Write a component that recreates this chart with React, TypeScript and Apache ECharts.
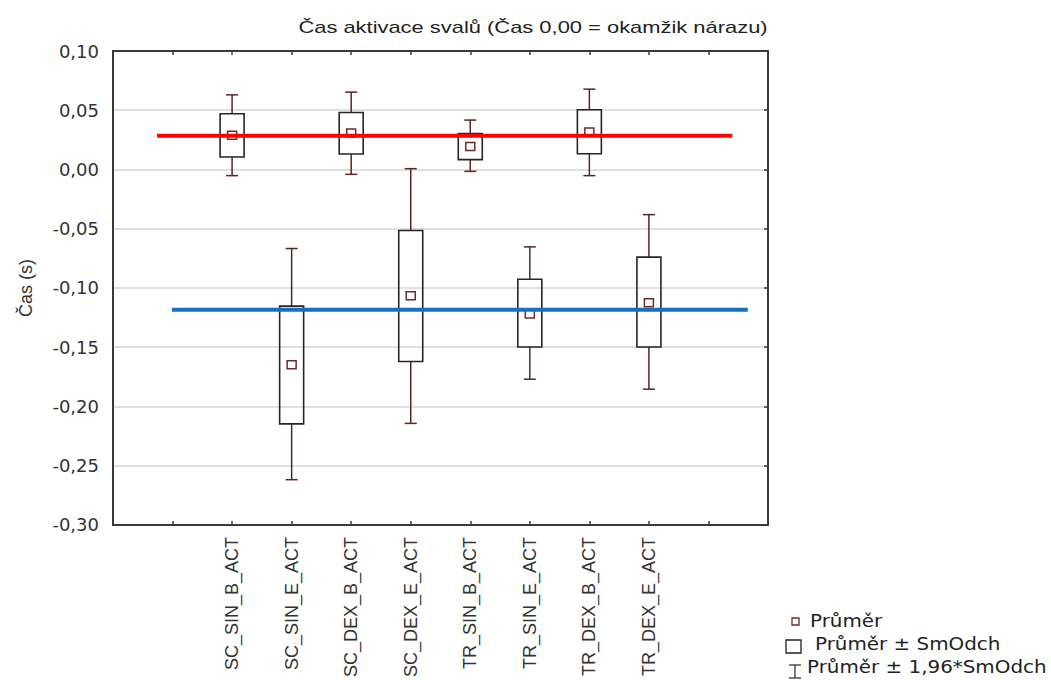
import React, { useEffect, useRef } from "react";
import * as echarts from "echarts";

// ---- data ----
const categories = [
  "SC_SIN_B_ACT",
  "SC_SIN_E_ACT",
  "SC_DEX_B_ACT",
  "SC_DEX_E_ACT",
  "TR_SIN_B_ACT",
  "TR_SIN_E_ACT",
  "TR_DEX_B_ACT",
  "TR_DEX_E_ACT",
];
// position of each category on the x scale (ticks 1..10, boxes on 2..9)
const categoryPos = [2, 3, 4, 5, 6, 7, 8, 9];
const means = [0.0285, -0.1652, 0.0304, -0.1069, 0.0189, -0.1223, 0.0312, -0.1128];
const sdLow = [0.0105, -0.2147, 0.0131, -0.1621, 0.0083, -0.1498, 0.0133, -0.1498];
const sdHigh = [0.047, -0.1153, 0.0481, -0.0515, 0.0304, -0.0926, 0.0504, -0.074];
const ciLow = [-0.0052, -0.2618, -0.0041, -0.2143, -0.0016, -0.177, -0.0052, -0.1854];
const ciHigh = [0.063, -0.0667, 0.0653, 0.0007, 0.0417, -0.0653, 0.0678, -0.0381];

const redLineY = 0.0285;
const redLineX = [0.74, 10.4];
const blueLineY = -0.1183;
const blueLineX = [0.99, 10.66];

const yTicksMin = -0.3;
const yTicksMax = 0.1;
const yTickStep = 0.05;

const titleText = "Čas aktivace svalů (Čas 0,00 = okamžik nárazu)";
const yName = "Čas (s)";
const legendLabels = ["Průměr", "Průměr ± SmOdch", "Průměr ± 1,96*SmOdch"];

const FRAME = "#3a3a3a";
const WHISKER = "#5a2424";
const MEANC = "#6e2a2a";

export default function App() {
  const ref = useRef<HTMLDivElement>(null);

  useEffect(() => {
    if (!ref.current) return;
    const chart = echarts.init(ref.current, null, { renderer: "svg" });

    const boxData = categories.map((_, i) => [
      categoryPos[i],
      means[i],
      sdLow[i],
      sdHigh[i],
      ciLow[i],
      ciHigh[i],
    ]);

    const fmtY = (v: number) =>
      Math.abs(v) < 1e-9 ? "0,00" : v.toFixed(2).replace(".", ",");

    const option: any = {
      animation: false,
      backgroundColor: "#ffffff",
      grid: { left: 113, top: 51, right: 283, bottom: 154, containLabel: false },
      xAxis: [
        {
          type: "value",
          position: "bottom",
          min: 0,
          max: 11,
          interval: 1,
          axisLine: { show: true, onZero: false, lineStyle: { color: FRAME, width: 2 } },
          axisTick: { show: true, inside: true, length: 4, lineStyle: { color: FRAME, width: 1.5 } },
          axisLabel: {
            rotate: 90,
            margin: 12,
            fontSize: 18,
            fontFamily: "Liberation Sans, Arial, sans-serif",
            color: "#333333",
            formatter: (v: number) => {
              const idx = categoryPos.indexOf(Math.round(v));
              return idx >= 0 ? categories[idx] : "";
            },
          },
          splitLine: { show: false },
        },
        {
          type: "value",
          position: "top",
          min: 0,
          max: 11,
          interval: 1,
          axisLine: { show: true, onZero: false, lineStyle: { color: FRAME, width: 2 } },
          axisTick: { show: true, inside: true, length: 4, lineStyle: { color: FRAME, width: 1.5 } },
          axisLabel: { show: false },
          splitLine: { show: false },
        },
      ],
      yAxis: [
        {
          type: "value",
          position: "left",
          min: yTicksMin,
          max: yTicksMax,
          interval: yTickStep,
          name: yName,
          nameLocation: "middle",
          nameRotate: 90,
          nameGap: 78,
          nameTextStyle: {
            fontSize: 18,
            fontFamily: "Liberation Sans, Arial, sans-serif",
            color: "#333333",
          },
          axisLine: { show: true, onZero: false, lineStyle: { color: FRAME, width: 2 } },
          axisTick: { show: false },
          axisLabel: {
            margin: 14,
            fontSize: 18,
            fontFamily: "DejaVu Sans, sans-serif",
            color: "#333333",
            formatter: fmtY,
          },
          splitLine: { show: true, lineStyle: { color: "#d6d6d6", width: 1.5 } },
        },
        {
          type: "value",
          position: "right",
          min: yTicksMin,
          max: yTicksMax,
          interval: yTickStep,
          axisLine: { show: true, onZero: false, lineStyle: { color: FRAME, width: 2 } },
          axisTick: { show: true, inside: true, length: 4, lineStyle: { color: FRAME, width: 1.5 } },
          axisLabel: { show: false },
          splitLine: { show: false },
        },
      ],
      series: [
        {
          type: "custom",
          xAxisIndex: 0,
          yAxisIndex: 0,
          data: boxData,
          z: 3,
          renderItem: (params: any, api: any) => {
            const x = api.value(0);
            const m = api.value(1);
            const sl = api.value(2);
            const sh = api.value(3);
            const cl = api.value(4);
            const ch = api.value(5);
            const px = api.coord([x, m])[0];
            const y = (v: number) => api.coord([x, v])[1];
            const bw = 24;
            const cw = 12;
            const ms = 9;
            return {
              type: "group",
              children: [
                {
                  type: "line",
                  shape: { x1: px, y1: y(ch), x2: px, y2: y(sh) },
                  style: { stroke: WHISKER, lineWidth: 1.5 },
                },
                {
                  type: "line",
                  shape: { x1: px, y1: y(sl), x2: px, y2: y(cl) },
                  style: { stroke: WHISKER, lineWidth: 1.5 },
                },
                {
                  type: "line",
                  shape: { x1: px - cw / 2, y1: y(ch), x2: px + cw / 2, y2: y(ch) },
                  style: { stroke: WHISKER, lineWidth: 1.5 },
                },
                {
                  type: "line",
                  shape: { x1: px - cw / 2, y1: y(cl), x2: px + cw / 2, y2: y(cl) },
                  style: { stroke: WHISKER, lineWidth: 1.5 },
                },
                {
                  type: "rect",
                  shape: { x: px - bw / 2, y: y(sh), width: bw, height: y(sl) - y(sh) },
                  style: { stroke: "#262626", lineWidth: 1.6, fill: "none" },
                },
                {
                  type: "rect",
                  shape: { x: px - ms / 2, y: y(m) - ms / 2, width: ms, height: ms - 1 },
                  style: { stroke: MEANC, lineWidth: 1.5, fill: "#ffffff" },
                },
              ],
            };
          },
        },
        {
          type: "line",
          xAxisIndex: 0,
          yAxisIndex: 0,
          data: [
            [redLineX[0], redLineY],
            [redLineX[1], redLineY],
          ],
          symbol: "none",
          z: 5,
          lineStyle: { color: "#ff0000", width: 4 },
        },
        {
          type: "line",
          xAxisIndex: 0,
          yAxisIndex: 0,
          data: [
            [blueLineX[0], blueLineY],
            [blueLineX[1], blueLineY],
          ],
          symbol: "none",
          z: 5,
          lineStyle: { color: "#1570c2", width: 4 },
        },
      ],
      graphic: [
        {
          type: "text",
          x: 533,
          y: 28,
          scaleX: 1.37,
          style: {
            text: titleText,
            fontSize: 16,
            fontFamily: "Liberation Sans, Arial, sans-serif",
            fill: "#222222",
            align: "center",
            verticalAlign: "middle",
          },
        },
        // legend
        {
          type: "rect",
          shape: { x: 792, y: 618, width: 7, height: 7 },
          style: { stroke: MEANC, lineWidth: 1.3, fill: "#ffffff" },
        },
        {
          type: "text",
          x: 810,
          y: 621,
          scaleX: 1.17,
          style: {
            text: legendLabels[0],
            fontSize: 17,
            fontFamily: "DejaVu Sans, sans-serif",
            fill: "#222222",
            verticalAlign: "middle",
          },
        },
        {
          type: "rect",
          shape: { x: 786, y: 640, width: 15, height: 13 },
          style: { stroke: "#222222", lineWidth: 1.3, fill: "#ffffff" },
        },
        {
          type: "text",
          x: 815,
          y: 644,
          scaleX: 1.17,
          style: {
            text: legendLabels[1],
            fontSize: 17,
            fontFamily: "DejaVu Sans, sans-serif",
            fill: "#222222",
            verticalAlign: "middle",
          },
        },
        {
          type: "line",
          shape: { x1: 795, y1: 665, x2: 795, y2: 678 },
          style: { stroke: "#333333", lineWidth: 1.3 },
        },
        {
          type: "line",
          shape: { x1: 789, y1: 665, x2: 801, y2: 665 },
          style: { stroke: "#333333", lineWidth: 1.3 },
        },
        {
          type: "line",
          shape: { x1: 789, y1: 678, x2: 801, y2: 678 },
          style: { stroke: "#333333", lineWidth: 1.3 },
        },
        {
          type: "text",
          x: 807,
          y: 667,
          scaleX: 1.17,
          style: {
            text: legendLabels[2],
            fontSize: 17,
            fontFamily: "DejaVu Sans, sans-serif",
            fill: "#222222",
            verticalAlign: "middle",
          },
        },
      ],
    };

    chart.setOption(option);
    return () => chart.dispose();
  }, []);

  return (
    <div
      ref={ref}
      style={{ width: 1051, height: 680, position: "absolute", left: 0, top: 0 }}
    />
  );
}
